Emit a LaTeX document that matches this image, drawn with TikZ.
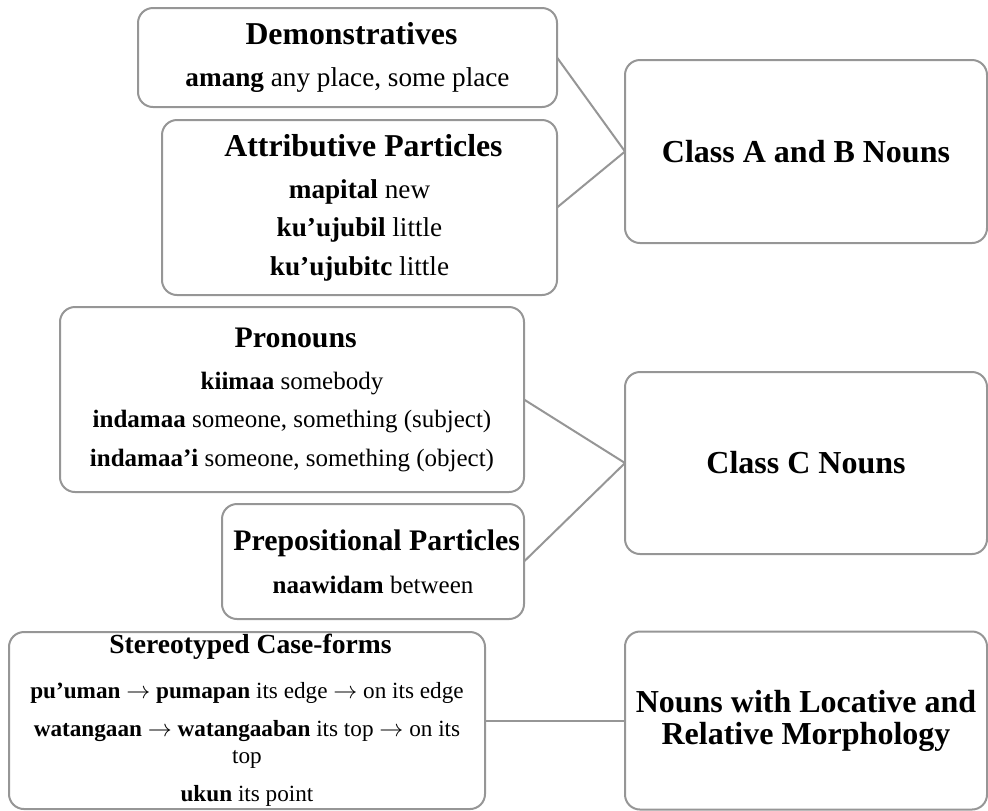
\documentclass[tikz,border=0pt]{standalone}
\usepackage{fontspec}
\setmainfont{Liberation Serif}
\usetikzlibrary{positioning,calc}
\definecolor{boxgray}{RGB}{150,150,150}
\newcommand{\headfont}[1][15.6]{\fontsize{#1}{16}\selectfont\bfseries}

\begin{document}
\begin{tikzpicture}[
itembox/.style={
draw=boxgray,
line width=1pt,
rounded corners=7.5pt,
align=center,
inner sep=0pt,
outer sep=0pt,
font=\fontsize{13.6}{13.5}\selectfont
},
catbox/.style={
itembox,
minimum width=181pt,
font=\headfont[16]
},
link/.style={
draw=boxgray,
line width=1pt
}
]

\useasboundingbox (0,0) rectangle (494pt,-405pt);


% Class A and B group

\node (demo) [itembox, minimum width=209.5pt, minimum height=49.5pt] at (173.75pt,-28.75pt)
{{\headfont[15.9] Demonstratives}\\[7.5pt]
\textbf{amang} any place, some place};

\node (attr) [itembox, minimum width=197.5pt, minimum height=87.5pt, below=6.5pt of demo.south east, anchor=north east]
{{\headfont[15.9] Attributive Particles}\\[7.5pt]
\textbf{mapital} new\\[5.8pt]
\textbf{ku’ujubil} little\\[5.8pt]
\textbf{ku’ujubitc} little};

\coordinate (abmid) at ($(demo.north east)!0.5!(attr.south east)$);

\node (classab) [catbox, minimum height=91.5pt, right=34pt of abmid]
{Class A and B Nouns};

\draw[link] (demo.east) -- (classab.west);
\draw[link] (attr.east) -- (classab.west);


% Class C group

\node (pron) [itembox, minimum width=232pt, minimum height=92.5pt, below=6pt of attr.south east, anchor=north east, xshift=-16.5pt, font=\fontsize{12.5}{13.5}\selectfont]
{{\headfont[14.9] Pronouns}\\[7.8pt]
\textbf{kiimaa} somebody\\[5.6pt]
\textbf{indamaa} someone, something (subject)\\[5.6pt]
\textbf{indamaa’i} someone, something (object)};

\node (prep) [itembox, minimum width=151pt, minimum height=57.5pt, below=6pt of pron.south east, anchor=north east, font=\fontsize{12.5}{13.5}\selectfont]
{{\headfont[14.9] Prepositional Particles}\\[7.8pt]
\textbf{naawidam} between};

\coordinate (cmid) at ($(pron.north east)!0.5!(prep.south east)$);

\node (classc) [catbox, minimum height=91pt, right=50.5pt of cmid]
{Class C Nouns};

\draw[link] (pron.east) -- (classc.west);
\draw[link] (prep.east) -- (classc.west);


% Locative group

\node (stereo) [itembox, minimum width=238pt, minimum height=88.5pt, below=6.5pt of prep.south east, anchor=north east, xshift=-19.5pt, font=\fontsize{11.6}{13.5}\selectfont]
{{\headfont[13.8] Stereotyped Case-forms}\\[9pt]
\textbf{pu’uman $\rightarrow$ pumapan} its edge $\rightarrow$ on its edge\\[5.5pt]
\textbf{watangaan $\rightarrow$ watangaaban} its top $\rightarrow$ on its\\
top\\[5.5pt]
\textbf{ukun} its point};

\node (nloc) [catbox, minimum height=89pt, right=70pt of stereo.east]
{Nouns with Locative and\\
Relative Morphology};

\draw[link] (stereo.east) -- (nloc.west);


\end{tikzpicture}
\end{document}
